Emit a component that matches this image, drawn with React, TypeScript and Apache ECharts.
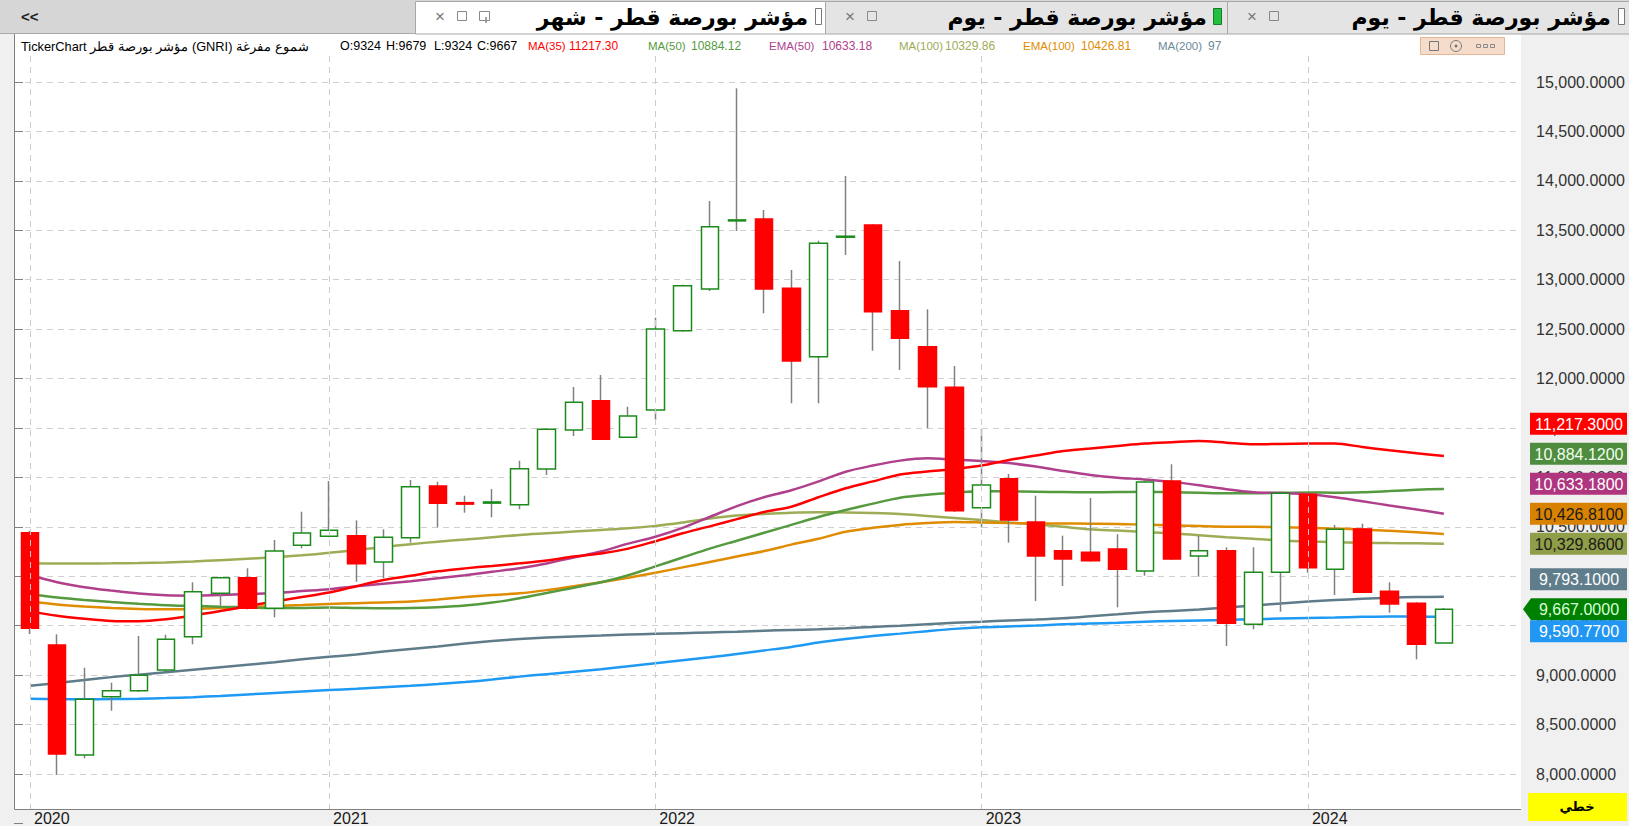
import React, { useEffect, useRef } from 'react';
import * as echarts from 'echarts';

// ---------- DATA ----------
const months = [
  '2020-02', '2020-03', '2020-04', '2020-05', '2020-06', '2020-07', '2020-08', '2020-09', '2020-10', '2020-11', '2020-12',
  '2021-01', '2021-02', '2021-03', '2021-04', '2021-05', '2021-06', '2021-07', '2021-08', '2021-09', '2021-10', '2021-11', '2021-12',
  '2022-01', '2022-02', '2022-03', '2022-04', '2022-05', '2022-06', '2022-07', '2022-08', '2022-09', '2022-10', '2022-11', '2022-12',
  '2023-01', '2023-02', '2023-03', '2023-04', '2023-05', '2023-06', '2023-07', '2023-08', '2023-09', '2023-10', '2023-11', '2023-12',
  '2024-01', '2024-02', '2024-03', '2024-04', '2024-05', '2024-06',
];

const open = [10441, 9305, 8192, 8782, 8843, 9052, 9389, 9828, 9986, 9676, 10313, 10404, 10411, 10144, 10390, 10913, 10745, 10740, 10724, 11085, 11480, 11776, 11406, 11682, 12484, 12906, 13595, 13614, 12913, 12221, 13430, 13553, 12687, 12322, 11912, 10694, 10987, 10549, 10259, 10243, 10276, 10053, 10964, 10205, 10259, 9514, 10040, 10829, 10071, 10478, 9848, 9727, 9324];
const high = [10460, 9413, 9075, 8923, 9396, 9409, 9939, 9995, 10081, 10367, 10653, 10964, 10566, 10475, 10974, 10957, 10815, 10883, 11169, 11495, 11915, 12036, 11715, 12616, 12950, 13796, 14936, 13705, 13098, 13395, 14049, 13560, 13189, 12701, 12127, 11487, 11035, 10815, 10411, 10792, 10425, 10974, 11133, 10408, 10293, 10293, 10850, 10840, 10519, 10532, 9939, 9737, 9679];
const low = [9416, 7990, 8159, 8640, 8830, 9040, 9312, 9702, 9665, 9585, 10283, 10395, 9945, 9980, 10340, 10495, 10643, 10597, 10678, 11025, 11419, 11380, 11400, 11581, 12475, 12886, 13493, 12660, 11750, 11750, 13250, 12282, 12087, 11497, 10650, 10495, 10340, 9750, 9902, 10150, 9686, 10006, 10165, 9996, 9295, 9464, 9642, 10036, 9811, 9830, 9632, 9160, 9324];
const close = [9474, 8202, 8756, 8843, 8998, 9363, 9844, 9986, 9676, 10256, 10438, 10465, 10127, 10394, 10906, 10738, 10730, 10752, 11088, 11487, 11760, 11386, 11621, 12501, 12939, 13536, 13605, 12906, 12178, 13368, 13440, 12676, 12407, 11918, 10663, 10923, 10569, 10205, 10175, 10158, 10071, 10954, 10175, 10259, 9524, 10040, 10839, 10087, 10475, 9838, 9720, 9312, 9667];

const ma35 = [9645, 9600, 9570, 9548, 9545, 9565, 9603, 9648, 9697, 9745, 9790, 9835, 9900, 9962, 10005, 10050, 10080, 10105, 10131, 10160, 10200, 10230, 10280, 10355, 10435, 10505, 10578, 10650, 10704, 10800, 10890, 10960, 11030, 11060, 11085, 11120, 11177, 11222, 11268, 11293, 11318, 11342, 11356, 11368, 11352, 11336, 11338, 11342, 11343, 11308, 11275, 11245, 11217.3];
const ma50 = [9820, 9785, 9760, 9740, 9722, 9708, 9700, 9692, 9686, 9678, 9680, 9685, 9680, 9676, 9678, 9688, 9705, 9735, 9777, 9830, 9885, 9940, 10010, 10100, 10190, 10280, 10360, 10440, 10520, 10600, 10670, 10735, 10795, 10825, 10845, 10860, 10858, 10855, 10852, 10850, 10852, 10855, 10850, 10845, 10840, 10840, 10845, 10848, 10845, 10850, 10862, 10875, 10884.12];
const ema50 = [10010, 9940, 9890, 9855, 9825, 9808, 9804, 9810, 9821, 9830, 9850, 9870, 9900, 9925, 9950, 9980, 10010, 10045, 10081, 10130, 10190, 10250, 10330, 10400, 10490, 10600, 10710, 10800, 10870, 10960, 11058, 11120, 11170, 11194, 11180, 11165, 11145, 11110, 11065, 11025, 10997, 10980, 10955, 10920, 10880, 10850, 10842, 10830, 10800, 10760, 10715, 10675, 10633.18];
const ma100 = [10131, 10130, 10130, 10131, 10134, 10140, 10150, 10163, 10177, 10192, 10212, 10237, 10265, 10295, 10325, 10350, 10372, 10395, 10418, 10435, 10452, 10468, 10485, 10510, 10545, 10585, 10615, 10630, 10642, 10647, 10646, 10640, 10630, 10610, 10590, 10570, 10545, 10525, 10500, 10475, 10462, 10448, 10435, 10415, 10395, 10380, 10362, 10352, 10345, 10340, 10336, 10333, 10329.86];
const ema100 = [9745, 9715, 9695, 9680, 9670, 9666, 9670, 9678, 9686, 9700, 9710, 9720, 9728, 9736, 9745, 9765, 9790, 9810, 9828, 9860, 9900, 9940, 9985, 10035, 10090, 10145, 10200, 10255, 10320, 10380, 10450, 10490, 10520, 10538, 10550, 10545, 10538, 10536, 10534, 10532, 10530, 10522, 10515, 10508, 10502, 10500, 10496, 10490, 10482, 10474, 10460, 10445, 10426.81];
const ma200 = [8893, 8920, 8950, 8980, 9005, 9030, 9055, 9080, 9105, 9130, 9160, 9185, 9210, 9240, 9265, 9290, 9320, 9345, 9365, 9380, 9392, 9400, 9410, 9418, 9425, 9432, 9440, 9450, 9457, 9464, 9475, 9488, 9500, 9515, 9530, 9541, 9552, 9562, 9575, 9595, 9615, 9635, 9650, 9665, 9685, 9705, 9725, 9745, 9760, 9772, 9783, 9790, 9793.1];
const ema200 = [8760, 8758, 8757, 8758, 8762, 8768, 8777, 8790, 8805, 8820, 8835, 8850, 8862, 8877, 8893, 8910, 8930, 8955, 8985, 9010, 9035, 9060, 9090, 9120, 9150, 9180, 9215, 9250, 9285, 9330, 9365, 9395, 9420, 9445, 9468, 9484, 9493, 9502, 9515, 9522, 9530, 9540, 9548, 9553, 9558, 9566, 9572, 9578, 9583, 9590, 9592, 9592, 9590.77];

const yTickMin = 7500;
const yTickMax = 15500;
const yTickStep = 500;

const tabTitles = ['مؤشر بورصة قطر - شهر', 'مؤشر بورصة قطر - يوم', 'مؤشر بورصة قطر - يوم'];
const headerTitle = 'TickerChart مؤشر بورصة قطر (GNRI) شموع مفرغة';
const chartTypeLabel = 'خطي';

// ---------- STYLE / LAYOUT ----------
const W = 1629;
const H = 826;
const PL = 14, PR = 1521, PT = 34, PB = 809;
const Y15000 = 82;
const K = 692 / 7000; // px per unit
const STEP = 27.19;
const GA_LEFT = 30;
const GA_TOP = 56;

const C = {
  ma35: '#ff0000',
  ma50: '#559a3f',
  ema50: '#b0408c',
  ma100: '#9dad55',
  ema100: '#e08c00',
  ma200: '#5f7c8b',
  ema200: '#1e9af5',
};

const FONT = '"Liberation Sans", Arial, sans-serif';
const AFONT = '"DejaVu Sans", sans-serif';

const fmt = (v: number) =>
  v.toLocaleString('en-US', { minimumFractionDigits: 4, maximumFractionDigits: 4 });

const isYearStart = (i: number) => i === 0 || months[i].endsWith('-01');

export default function App() {
  const ref = useRef<HTMLDivElement>(null);

  useEffect(() => {
    if (!ref.current) return;
    const chart = echarts.init(ref.current, undefined, { renderer: 'svg' });

    const n = months.length;
    const yMaxA = 15000 + (Y15000 - GA_TOP) / K;
    const yMinA = 15000 - (PB - Y15000) / K;

    const lineSeries = (name: string, data: number[], color: string) => ({
      name,
      type: 'line',
      xAxisIndex: 0,
      yAxisIndex: 0,
      data,
      showSymbol: false,
      smooth: 0.3,
      silent: true,
      lineStyle: { color, width: 2.5 },
      z: 2,
    });

    const option: any = {
      animation: false,
      backgroundColor: '#f0f0f0',
      grid: [
        { left: GA_LEFT, top: GA_TOP, width: STEP * (n - 1), height: PB - GA_TOP, outerBoundsMode: 'none', containLabel: false },
        { left: PL, top: Y15000 - (yTickMax - 15000) * K, width: PR - PL, height: (yTickMax - yTickMin) * K, outerBoundsMode: 'none', containLabel: false },
      ],
      xAxis: [
        {
          type: 'category',
          gridIndex: 0,
          data: months,
          boundaryGap: false,
          axisLine: { show: false },
          axisTick: { show: false },
          axisLabel: {
            interval: (i: number) => isYearStart(i),
            formatter: (v: string) => v.slice(0, 4),
            align: 'left',
            padding: [0, 0, 0, 4],
            margin: 1,
            fontSize: 16,
            fontFamily: FONT,
            color: '#1a1a1a',
          },
          splitLine: {
            show: true,
            interval: (i: number) => isYearStart(i),
            lineStyle: { type: [6, 5], color: '#cccccc', width: 1 },
          },
          z: 6,
        },
        { type: 'value', gridIndex: 1, min: 0, max: 1, show: false },
      ],
      yAxis: [
        { type: 'value', gridIndex: 0, min: yMinA, max: yMaxA, show: false },
        {
          type: 'value',
          gridIndex: 1,
          position: 'right',
          min: yTickMin,
          max: yTickMax,
          interval: yTickStep,
          axisLine: { show: false },
          axisTick: { show: true, length: 9, lineStyle: { color: '#808080' } },
          axisLabel: {
            margin: 15,
            fontSize: 16,
            fontFamily: FONT,
            color: '#333333',
            formatter: (v: number) => (v <= yTickMin || v >= yTickMax ? '' : fmt(v)),
          },
          splitLine: {
            show: true,
            showMinLine: false,
            showMaxLine: false,
            lineStyle: { type: [6, 5], color: '#d0d0d0', width: 1 },
          },
          z: 1,
        },
      ],
      series: [
        lineSeries('EMA200', ema200, C.ema200),
        lineSeries('MA200', ma200, C.ma200),
        lineSeries('MA100', ma100, C.ma100),
        lineSeries('EMA100', ema100, C.ema100),
        lineSeries('MA50', ma50, C.ma50),
        lineSeries('EMA50', ema50, C.ema50),
        lineSeries('MA35', ma35, C.ma35),
        {
          name: 'wick',
          type: 'candlestick',
          xAxisIndex: 0,
          yAxisIndex: 0,
          data: months.map((_, i) => [open[i], close[i], low[i], high[i]]),
          barWidth: 1,
          clip: false,
          silent: true,
          itemStyle: { color: '#808080', color0: '#808080', borderColor: '#808080', borderColor0: '#808080', borderWidth: 1.5 },
          z: 3,
        },
        {
          name: 'body',
          type: 'candlestick',
          xAxisIndex: 0,
          yAxisIndex: 0,
          data: months.map((_, i) => [open[i], close[i], Math.min(open[i], close[i]), Math.max(open[i], close[i])]),
          barWidth: 18,
          clip: false,
          silent: true,
          itemStyle: { color: '#ffffff', color0: '#ff0000', borderColor: '#1b8a1b', borderColor0: '#ff0000', borderWidth: 1.5 },
          z: 4,
        },
      ],
    };

    chart.setOption(option);

    // ---------- value tags on the price axis ----------
    const last = n - 1;
    const tags: any[] = [
      { v: ma35[last], bg: '#ff0000', fg: '#ffffff' },
      { v: ma50[last], bg: '#4f8c3e', fg: '#f0fff0' },
      { v: ema50[last], bg: '#b0357f', fg: '#ffffff' },
      { v: ema100[last], bg: '#d98200', fg: '#1a1a1a' },
      { v: ma100[last], bg: '#8f9e48', fg: '#1a1a1a' },
      { v: ma200[last], bg: '#607d8b', fg: '#ffffff' },
      { v: close[last], bg: '#008000', fg: '#d8ffd8', pin: true },
      { v: ema200[last], bg: '#2196f3', fg: '#ffffff' },
    ];
    tags.forEach((t) => {
      t.y = chart.convertToPixel({ yAxisIndex: 0 } as any, t.v) as unknown as number;
    });
    tags.sort((a, b) => a.y - b.y);
    const pi = tags.findIndex((t) => t.pin);
    for (let i = pi - 1; i >= 0; i--) tags[i].y = Math.min(tags[i].y, tags[i + 1].y - 30);
    for (let i = pi + 1; i < tags.length; i++) tags[i].y = Math.max(tags[i].y, tags[i - 1].y + 22);

    const g: any[] = [];
    // plot background
    g.push({ type: 'rect', z: -5, silent: true, shape: { x: PL, y: PT, width: PR - PL, height: PB - PT }, style: { fill: '#ffffff' } });
    // plot border
    g.push({ type: 'polyline', z: 5, silent: true, shape: { points: [[PL + 0.5, PT], [PL + 0.5, PB + 0.5], [PR, PB + 0.5]] }, style: { stroke: '#808080', lineWidth: 1, fill: null } });
    // cover strip bottom right
    g.push({ type: 'rect', z: 5, silent: true, shape: { x: PR, y: 815, width: W - PR, height: 11 }, style: { fill: '#f0f0f0' } });

    // tab bar
    g.push({ type: 'rect', z: 5, silent: true, shape: { x: 0, y: 0, width: W, height: PT }, style: { fill: '#d6d6d6' } });
    g.push({ type: 'line', z: 6, silent: true, shape: { x1: 0, y1: PT - 0.5, x2: W, y2: PT - 0.5 }, style: { stroke: '#a8a8a8', lineWidth: 1 } });
    g.push({ type: 'text', z: 7, silent: true, style: { text: '<<', x: 21, y: 16, fill: '#222', fontSize: 15, fontWeight: 'bold', fontFamily: FONT, align: 'left', verticalAlign: 'middle', textAlign: 'left', textVerticalAlign: 'middle' } });

    const tabs = [
      { x: 415, w: 410, fill: '#ffffff', title: tabTitles[0], textRight: 808, mark: 'box', icons: 3 },
      { x: 825, w: 402, fill: '#e4e4e4', title: tabTitles[1], textRight: 1207, mark: 'green', icons: 2 },
      { x: 1227, w: 402, fill: '#e4e4e4', title: tabTitles[2], textRight: 1611, mark: 'box', icons: 2 },
    ];
    tabs.forEach((t) => {
      g.push({ type: 'rect', z: 6, silent: true, shape: { x: t.x + 0.5, y: 1.5, width: t.w, height: PT - 1.5 }, style: { fill: t.fill, stroke: '#a8a8a8', lineWidth: 1 } });
      const ix = t.x + 20;
      g.push({ type: 'text', z: 7, silent: true, style: { text: '×', x: ix, y: 16, fill: '#777', fontSize: 17, fontFamily: FONT, align: 'left', verticalAlign: 'middle', textAlign: 'left', textVerticalAlign: 'middle' } });
      g.push({ type: 'rect', z: 7, silent: true, shape: { x: ix + 22.5, y: 11.5, width: 9, height: 9 }, style: { fill: 'none', stroke: '#888', lineWidth: 1 } });
      if (t.icons === 3) {
        g.push({ type: 'rect', z: 7, silent: true, shape: { x: ix + 44.5, y: 11.5, width: 10, height: 9 }, style: { fill: 'none', stroke: '#888', lineWidth: 1 } });
        g.push({ type: 'line', z: 7, silent: true, shape: { x1: ix + 51, y1: 17, x2: ix + 51, y2: 23 }, style: { stroke: '#888', lineWidth: 1.5 } });
      }
      g.push({ type: 'text', z: 7, silent: true, style: { text: t.title, x: t.textRight, y: 17, fill: '#000', fontSize: 22, fontWeight: 'bold', fontFamily: AFONT, align: 'right', verticalAlign: 'middle', textAlign: 'right', textVerticalAlign: 'middle' } });
      if (t.mark === 'green') {
        g.push({ type: 'rect', z: 7, silent: true, shape: { x: t.textRight + 6.5, y: 8.5, width: 8, height: 16 }, style: { fill: '#22c040', stroke: '#1a7a2a', lineWidth: 1 } });
      } else {
        g.push({ type: 'rect', z: 7, silent: true, shape: { x: t.textRight + 7.5, y: 8.5, width: 6, height: 16 }, style: { fill: '#ffffff', stroke: '#777', lineWidth: 1 } });
      }
    });

    // header info line
    const hy = 46;
    const hText = (text: string, x: number, fill: string, size = 12.5, family = FONT) =>
      g.push({ type: 'text', z: 7, silent: true, style: { text, x, y: hy, fill, fontSize: size, fontFamily: family, align: 'left', verticalAlign: 'middle', textAlign: 'left', textVerticalAlign: 'middle' } });
    hText(headerTitle, 21, '#000', 12.8, FONT);
    hText(`O:${open[last]}`, 340, '#000');
    hText(`H:${high[last]}`, 386, '#000');
    hText(`L:${low[last]}`, 434, '#000');
    hText(`C:${close[last]}`, 477, '#000');
    const LS = 11.5, VS = 12;
    hText('MA(35)', 528, C.ma35, LS);
    hText(ma35[last].toFixed(2), 569, C.ma35, VS);
    hText('MA(50)', 648, C.ma50, LS);
    hText(ma50[last].toFixed(2), 691, C.ma50, VS);
    hText('EMA(50)', 769, C.ema50, LS);
    hText(ema50[last].toFixed(2), 822, C.ema50, VS);
    hText('MA(100)', 899, C.ma100, LS);
    hText(ma100[last].toFixed(2), 945, C.ma100, VS);
    hText('EMA(100)', 1023, C.ema100, LS);
    hText(ema100[last].toFixed(2), 1081, C.ema100, VS);
    hText('MA(200)', 1158, '#6c8a99', LS);
    hText(ma200[last].toFixed(2).slice(0, 2), 1208, '#6c8a99', VS);

    // header icon box
    g.push({ type: 'rect', z: 7, silent: true, shape: { x: 1420.5, y: 37.5, width: 84, height: 17 }, style: { fill: '#f5dccb', stroke: '#e2b595', lineWidth: 1 } });
    g.push({ type: 'rect', z: 8, silent: true, shape: { x: 1429.5, y: 41.5, width: 9, height: 9 }, style: { fill: 'none', stroke: '#777', lineWidth: 1 } });
    g.push({ type: 'circle', z: 8, silent: true, shape: { cx: 1456, cy: 46, r: 5.5 }, style: { fill: 'none', stroke: '#777', lineWidth: 1 } });
    g.push({ type: 'circle', z: 8, silent: true, shape: { cx: 1456, cy: 46, r: 1.5 }, style: { fill: '#777' } });
    [1476, 1483, 1490].forEach((x) =>
      g.push({ type: 'rect', z: 8, silent: true, shape: { x: x + 0.5, y: 44.5, width: 4, height: 3 }, style: { fill: 'none', stroke: '#888', lineWidth: 1 } })
    );

    // value tags
    tags.forEach((t) => {
      if (t.pin) {
        g.push({ type: 'polygon', z: 10, silent: true, shape: { points: [[1523, t.y], [1531, t.y - 11], [1627, t.y - 11], [1627, t.y + 11], [1531, t.y + 11]] }, style: { fill: t.bg } });
      } else {
        g.push({ type: 'rect', z: 10, silent: true, shape: { x: 1530, y: t.y - 11, width: 97, height: 22 }, style: { fill: t.bg } });
      }
      g.push({ type: 'text', z: 11, silent: true, style: { text: fmt(t.v), x: 1579, y: t.y + 0.5, fill: t.fg, fontSize: 16, fontFamily: FONT, align: 'center', verticalAlign: 'middle', textAlign: 'center', textVerticalAlign: 'middle' } });
    });

    // chart type box
    g.push({ type: 'rect', z: 10, silent: true, shape: { x: 1528, y: 793, width: 99, height: 28 }, style: { fill: '#ffff00' } });
    g.push({ type: 'text', z: 11, silent: true, style: { text: chartTypeLabel, x: 1577, y: 806, fill: '#000', fontSize: 13, fontWeight: 'bold', fontFamily: AFONT, align: 'center', verticalAlign: 'middle', textAlign: 'center', textVerticalAlign: 'middle' } });

    chart.setOption({ graphic: { elements: g } });

    return () => chart.dispose();
  }, []);

  return <div ref={ref} style={{ position: 'fixed', left: 0, top: 0, width: W, height: H }} />;
}
